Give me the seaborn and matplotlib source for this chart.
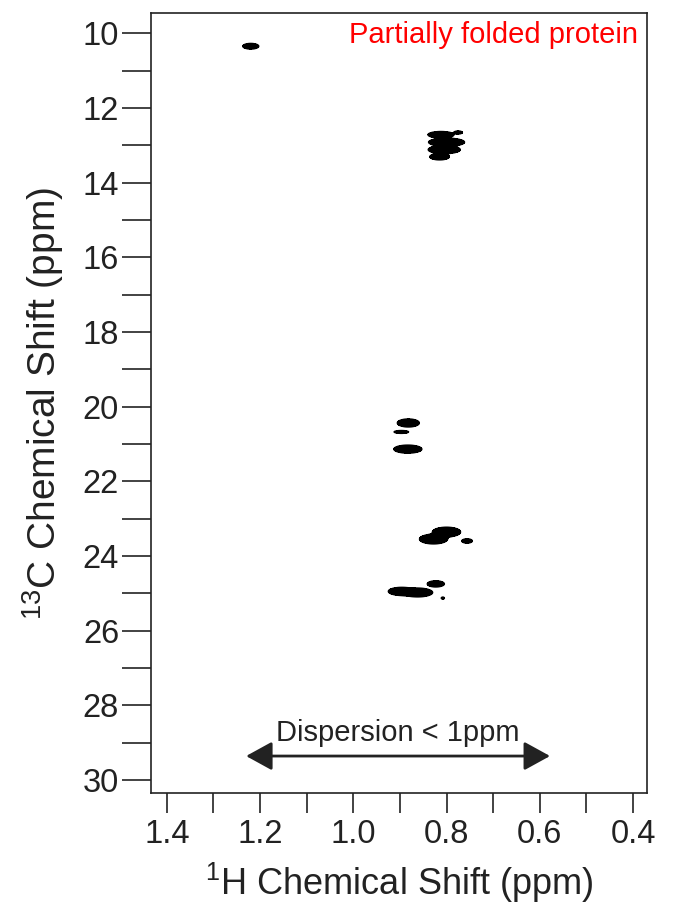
import numpy as np
import pandas as pd
import seaborn as sns
import matplotlib
matplotlib.use("Agg")
import matplotlib.pyplot as plt
from matplotlib.ticker import MultipleLocator, FormatStrFormatter

# ---- data: peaks (1H ppm, 13C ppm, widths, relative intensity) ----
peak_h = [1.220,
          0.812, 0.775, 0.800, 0.805, 0.815,
          0.882, 0.897, 0.883,
          0.800, 0.828, 0.756,
          0.897, 0.862, 0.823, 0.808]
peak_c = [10.35,
          12.72, 12.66, 12.92, 13.12, 13.31,
          20.44, 20.68, 21.14,
          23.36, 23.55, 23.60,
          24.95, 24.98, 24.75, 25.13]
peak_wh = [0.008,
           0.013, 0.005, 0.018, 0.016, 0.010,
           0.011, 0.009, 0.014,
           0.014, 0.014, 0.006,
           0.013, 0.015, 0.009, 0.0025]
peak_wc = [0.035,
           0.04, 0.022, 0.05, 0.05, 0.04,
           0.05, 0.022, 0.05,
           0.06, 0.06, 0.03,
           0.05, 0.055, 0.04, 0.02]
peak_amp = [1.0,
            1.0, 0.5, 1.0, 1.0, 0.9,
            1.0, 0.45, 1.0,
            1.0, 1.0, 0.6,
            1.0, 1.0, 0.8, 0.25]

title_text = "Partially folded protein"
dispersion_text = "Dispersion < 1ppm"
disp_from, disp_to, disp_c, disp_text_c = 1.230, 0.578, 29.36, 28.74

peaks = pd.DataFrame(dict(h=peak_h, c=peak_c, wh=peak_wh, wc=peak_wc, amp=peak_amp))

# ---- style ----
sns.set_theme(style="ticks")
plt.rcParams["font.family"] = ["Liberation Sans", "DejaVu Sans"]
plt.rcParams["mathtext.fontset"] = "custom"
plt.rcParams["mathtext.rm"] = "Liberation Sans"
plt.rcParams["mathtext.it"] = "Liberation Sans:italic"

fig = plt.figure(figsize=(6.88, 9.07), dpi=100)
ax = fig.add_axes([151/688, 1-793/907, (647-151)/688, (793-13)/907])

# spectrum grid
H = np.linspace(0.36, 1.45, 1400)
C = np.linspace(9.4, 30.6, 1800)
HH, CC = np.meshgrid(H, C)
Z = np.zeros_like(HH)
for _, p in peaks.iterrows():
    Z += p.amp * np.exp(-0.5 * (((HH - p.h) / p.wh) ** 2 + ((CC - p.c) / p.wc) ** 2))

thr = 0.1
ax.contourf(HH, CC, Z, levels=[thr, Z.max() + 1], colors=["black"])
ax.contour(HH, CC, Z, levels=[thr], colors=["black"], linewidths=1.0)

ax.set_xlim(1.434, 0.37)
ax.set_ylim(30.35, 9.46)

ax.xaxis.set_major_locator(MultipleLocator(0.2))
ax.xaxis.set_minor_locator(MultipleLocator(0.1))
ax.xaxis.set_major_formatter(FormatStrFormatter("%.1f"))
ax.yaxis.set_major_locator(MultipleLocator(2))
ax.yaxis.set_minor_locator(MultipleLocator(1))

tc = "#222222"
ax.tick_params(axis="x", which="both", direction="out", length=14.5, width=1.2,
               color=tc, labelsize=23.5, labelcolor=tc, pad=4)
ax.tick_params(axis="y", which="both", direction="out", length=21, width=1.2,
               color=tc, labelsize=23.5, labelcolor=tc, pad=2)
for s in ax.spines.values():
    s.set_visible(True)
    s.set_linewidth(1.2)
    s.set_color(tc)

ax.set_xlabel(r"$^{1}$H Chemical Shift (ppm)", fontsize=26, color=tc, labelpad=8)
ax.set_ylabel(r"$^{13}$C Chemical Shift (ppm)", fontsize=28, color=tc)
ax.yaxis.set_label_coords(-0.171, 0.5)

ax.text(0.982, 0.972, title_text, transform=ax.transAxes, ha="right", va="center",
        color="red", fontsize=21)

ax.annotate("", xy=(disp_to, disp_c), xytext=(disp_from, disp_c),
            arrowprops=dict(arrowstyle="<|-|>,head_length=1.0,head_width=0.55",
                            color="#222222", lw=2, mutation_scale=16,
                            shrinkA=0, shrinkB=0))
ax.text((disp_from + disp_to) / 2 + 0.0, disp_text_c, dispersion_text, ha="center", va="center",
        fontsize=21, color="#222222")

fig.savefig("out.png", dpi=100)
